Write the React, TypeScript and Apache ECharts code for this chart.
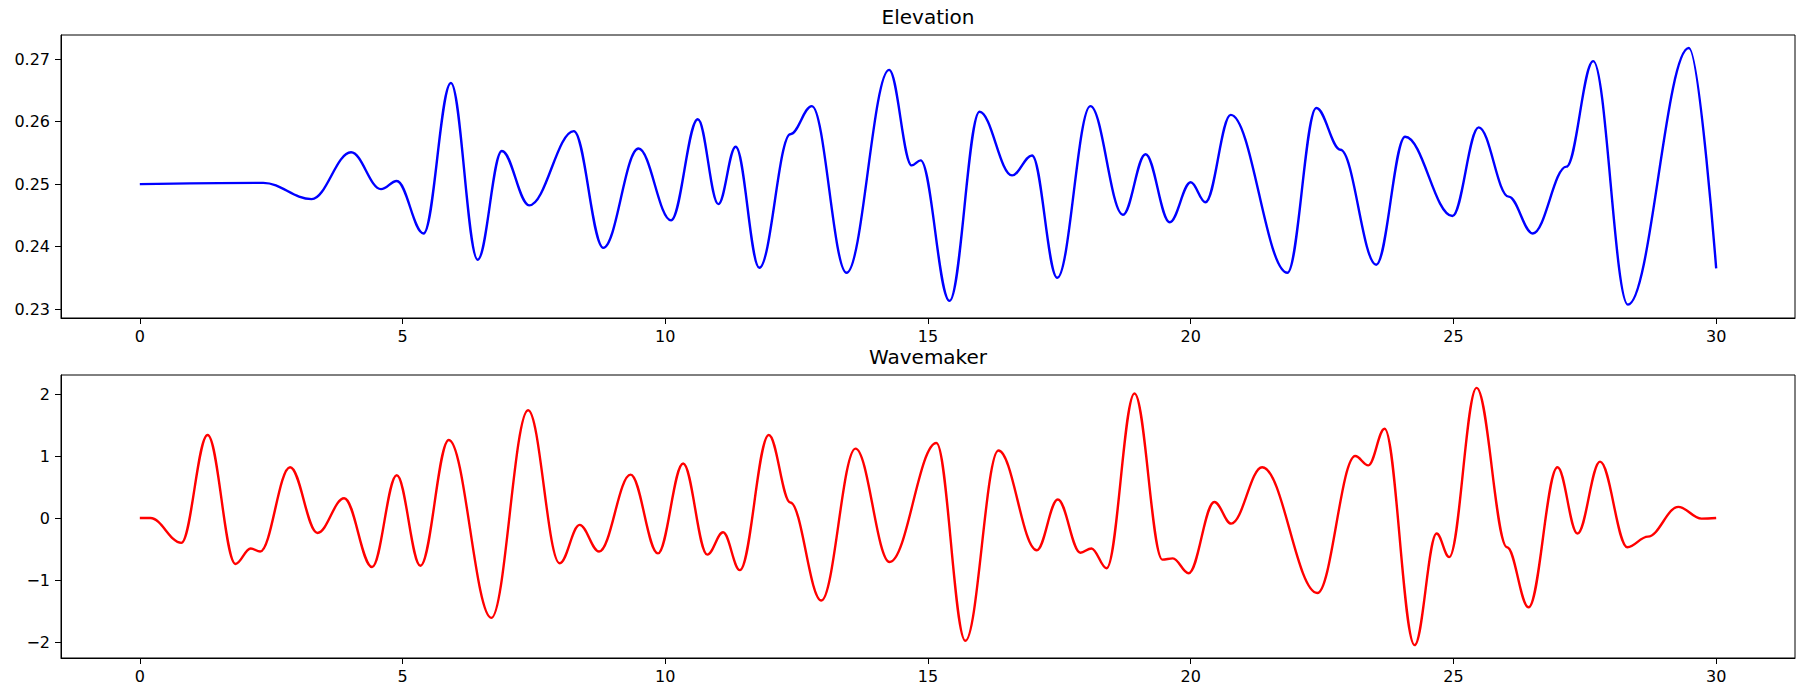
import React, { useEffect, useRef } from "react";
import * as echarts from "echarts";

// Elevation (top panel): time and value of the curve's turning points
const elevT = [0, 2.35, 3.27, 4.02, 4.59, 4.89, 5.4, 5.92, 6.43, 6.89, 7.41, 8.26, 8.82, 9.49, 10.11, 10.62, 11.01, 11.34, 11.79, 12.38, 12.79, 13.45, 14.26, 14.69, 14.86, 15.41, 15.98, 16.6, 16.98, 17.46, 18.09, 18.71, 19.14, 19.6, 20.0, 20.28, 20.76, 21.84, 22.39, 22.85, 23.53, 24.08, 24.98, 25.48, 26.05, 26.51, 27.15, 27.66, 28.32, 29.48, 30.0];
const elevV = [0.25, 0.2502, 0.2476, 0.2551, 0.2492, 0.2505, 0.2421, 0.2662, 0.2379, 0.2553, 0.2466, 0.2585, 0.2398, 0.2557, 0.2442, 0.2604, 0.2468, 0.256, 0.2366, 0.258, 0.2625, 0.2358, 0.2683, 0.253, 0.2538, 0.2313, 0.2616, 0.2514, 0.2546, 0.235, 0.2625, 0.2451, 0.2548, 0.2439, 0.2503, 0.2471, 0.2611, 0.2358, 0.2622, 0.2555, 0.2371, 0.2576, 0.2449, 0.2591, 0.248, 0.2421, 0.2528, 0.2697, 0.2307, 0.2718, 0.2365];

// Wavemaker (bottom panel)
const waveT = [0, 0.2, 0.79, 1.29, 1.82, 2.11, 2.29, 2.86, 3.38, 3.89, 4.42, 4.89, 5.34, 5.88, 6.69, 7.39, 7.99, 8.37, 8.74, 9.34, 9.86, 10.34, 10.8, 11.1, 11.42, 11.97, 12.38, 12.97, 13.62, 14.27, 15.16, 15.71, 16.34, 17.07, 17.47, 17.9, 18.11, 18.4, 18.93, 19.46, 19.66, 19.96, 20.45, 20.77, 21.36, 22.41, 23.13, 23.38, 23.69, 24.26, 24.68, 24.92, 25.44, 26.02, 26.43, 26.98, 27.36, 27.79, 28.31, 28.7, 29.28, 29.72, 30.0];
const waveV = [0, 0, -0.4, 1.34, -0.74, -0.49, -0.54, 0.82, -0.24, 0.32, -0.79, 0.69, -0.77, 1.26, -1.61, 1.74, -0.73, -0.11, -0.54, 0.7, -0.57, 0.88, -0.59, -0.23, -0.84, 1.34, 0.25, -1.33, 1.12, -0.71, 1.21, -1.98, 1.09, -0.52, 0.3, -0.56, -0.49, -0.81, 2.01, -0.67, -0.65, -0.89, 0.26, -0.09, 0.82, -1.21, 1.0, 0.85, 1.44, -2.05, -0.25, -0.63, 2.1, -0.47, -1.44, 0.82, -0.25, 0.91, -0.47, -0.3, 0.18, -0.01, 0.0];

const xTicks = [0, 5, 10, 15, 20, 25, 30];
const elevTicks = [0.23, 0.24, 0.25, 0.26, 0.27];
const waveTicks = [-2, -1, 0, 1, 2];

const titles = ["Elevation", "Wavemaker"];

const FONT = "DejaVu Sans";

export default function App() {
  const ref = useRef<HTMLDivElement>(null);
  useEffect(() => {
    if (!ref.current) return;
    const chart = echarts.init(ref.current, undefined, { renderer: "svg" });
    const labelStyle = { color: "#000", fontSize: 16, fontFamily: FONT };
    const xAxisBase = (gridIndex: number) => ({
      type: "value",
      gridIndex,
      min: -1.5,
      max: 31.5,
      splitLine: { show: false },
      axisLine: { show: true, onZero: false, lineStyle: { color: "#000", width: 1 } },
      axisTick: { show: true, length: 6, customValues: xTicks, lineStyle: { color: "#000" } },
      axisLabel: { ...labelStyle, margin: 10, customValues: xTicks, formatter: (v: number) => String(v) },
    });
    const yAxisBase = (gridIndex: number, min: number, max: number, ticks: number[], fmt: (v: number) => string) => ({
      type: "value",
      gridIndex,
      min,
      max,
      splitLine: { show: false },
      axisLine: { show: true, onZero: false, lineStyle: { color: "#000", width: 1 } },
      axisTick: { show: true, length: 6, customValues: ticks, lineStyle: { color: "#000" } },
      axisLabel: { ...labelStyle, margin: 11, customValues: ticks, formatter: fmt },
    });
    const lineSeries = (idx: number, ts: number[], vs: number[], color: string) => ({
      type: "line",
      xAxisIndex: idx,
      yAxisIndex: idx,
      data: ts.map((t, i) => [t, vs[i]]),
      showSymbol: false,
      symbol: "none",
      smooth: 0.37,
      smoothMonotone: "x",
      lineStyle: { color, width: 2.4 },
      itemStyle: { color },
    });
    const option = {
      animation: false,
      backgroundColor: "#fff",
      graphic: [
        { type: "text", x: 928, y: 17, style: { text: titles[0], align: "center", verticalAlign: "middle", fontSize: 20, fontFamily: FONT, fill: "#000" } },
        { type: "text", x: 928, y: 357, style: { text: titles[1], align: "center", verticalAlign: "middle", fontSize: 20, fontFamily: FONT, fill: "#000" } },
      ],
      grid: [
        { left: 61, right: 7, top: 35, height: 283, show: true, borderColor: "#000", borderWidth: 1, backgroundColor: "transparent" },
        { left: 61, right: 7, top: 375, height: 283, show: true, borderColor: "#000", borderWidth: 1, backgroundColor: "transparent" },
      ],
      xAxis: [xAxisBase(0), xAxisBase(1)],
      yAxis: [
        yAxisBase(0, 0.22856, 0.27389, elevTicks, (v: number) => v.toFixed(2)),
        yAxisBase(1, -2.2575, 2.3075, waveTicks, (v: number) => String(Math.round(v)).replace("-", "\u2212")),
      ],
      series: [
        lineSeries(0, elevT, elevV, "#0000ff"),
        lineSeries(1, waveT, waveV, "#ff0000"),
      ],
    };
    chart.setOption(option as any);
    return () => chart.dispose();
  }, []);
  return (
    <div
      ref={ref}
      style={{ position: "fixed", left: 0, top: 0, width: 1802, height: 690, background: "#fff" }}
    />
  );
}
